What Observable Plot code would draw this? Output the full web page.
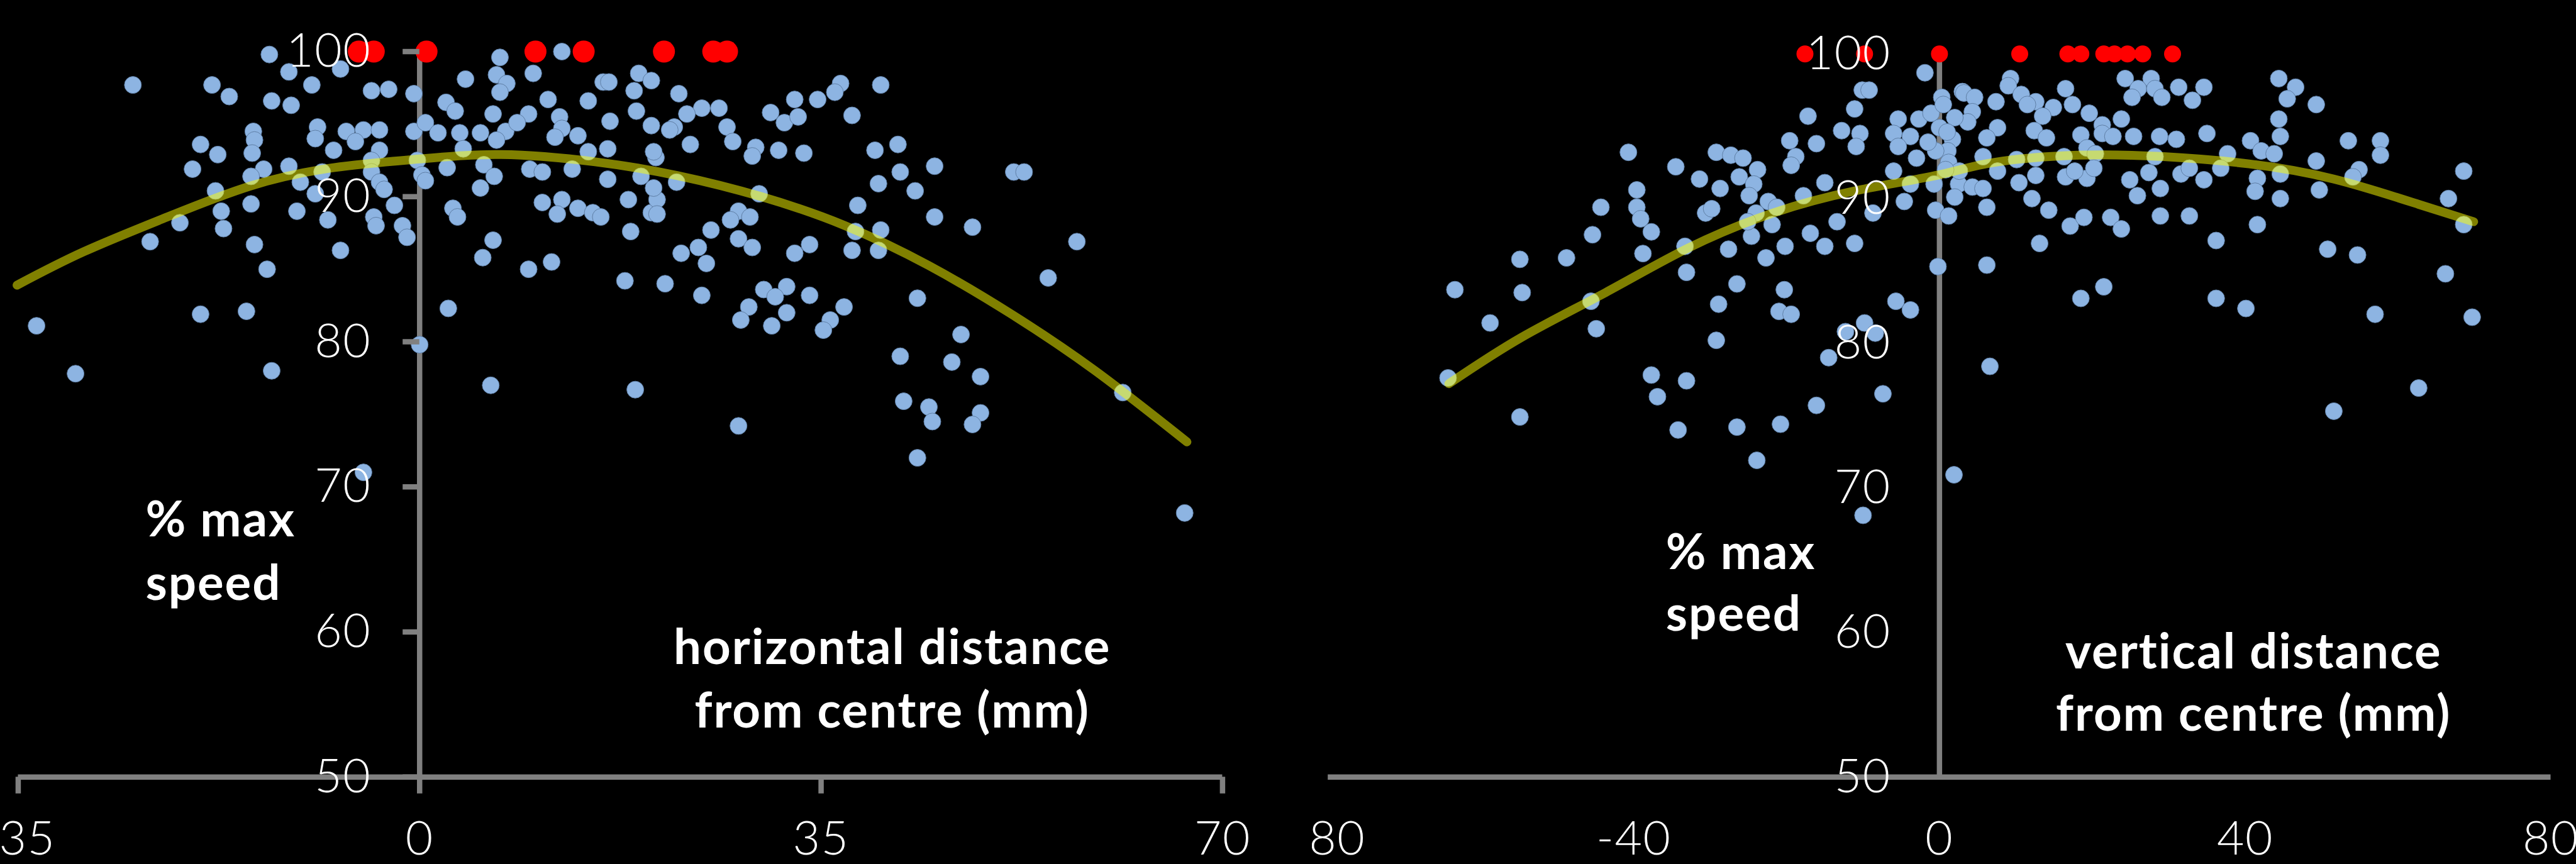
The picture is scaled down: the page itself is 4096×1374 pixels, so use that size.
<!DOCTYPE html>
<html><head><meta charset="utf-8">
<script src="https://cdn.jsdelivr.net/npm/d3@7"></script>
<script src="https://cdn.jsdelivr.net/npm/@observablehq/plot@0.6"></script>
<style>
html,body{margin:0;padding:0;background:#000;}
#wrap{position:relative;width:4096px;height:1374px;overflow:hidden;background:#000;}
#left,#right{position:absolute;top:0;height:1374px;overflow:hidden;}
#left{left:0;width:2086px;}
#right{left:2086px;width:2010px;}
svg{display:block;max-width:none !important;}
g[aria-label="text"] text{letter-spacing:2px;}
g[aria-label="x-axis tick label"] text, g[aria-label="y-axis tick label"] text{letter-spacing:1.5px;}
</style></head><body>
<div id="wrap"><div id="left"></div><div id="right"></div></div>
<script>
// ---------- data ----------
const yTicks = [50, 60, 70, 80, 90, 100];
const hTicks = [-35, 0, 35, 70];
const vTicks = [-80, -40, 0, 40, 80];

// horizontal distance panel: [mm, % max speed]
const hBlue = [
[-13.1,99.8],[-11.4,98.6],[-6.9,98.8],[-25.0,97.7],[-18.1,97.7],[-16.6,96.9],[-9.4,97.7],[-12.9,96.6],[-11.2,96.3],[-4.2,97.3],
[-2.7,97.4],[-0.5,97.1],[7.0,99.6],[4.0,98.1],[6.7,98.4],[7.6,97.8],[7.0,97.2],[9.9,98.5],[12.4,100.0],[11.2,96.7],
[14.7,96.6],[16.0,97.9],[16.5,97.9],[19.1,98.5],[18.7,97.3],[18.9,95.9],[20.2,98.0],[2.3,96.5],[3.1,95.9],[6.4,95.7],
[9.5,95.7],[-8.9,94.8],[-9.1,94.0],[-14.5,94.5],[-14.4,93.9],[-14.6,93.0],[-19.1,93.6],[-17.6,92.9],[-19.8,91.9],[-6.4,94.5],
[-4.9,94.6],[-3.5,94.6],[-5.6,93.8],[-7.5,93.2],[-3.5,93.2],[-4.2,92.5],[-0.5,94.5],[0.5,95.1],[1.6,94.4],[3.5,94.4],
[5.3,94.4],[7.5,94.5],[8.5,95.1],[6.7,93.9],[12.2,95.5],[12.4,94.7],[13.8,94.2],[11.8,94.1],[16.6,95.2],[16.4,93.3],
[20.2,94.9],[14.7,93.1],[3.8,93.3],[-0.2,92.5],[2.4,92.0],[5.6,92.2],[9.6,91.9],[10.7,91.7],[13.3,91.9],[0.2,91.5],
[0.5,91.1],[6.5,91.4],[5.3,90.6],[16.4,91.2],[-13.6,91.9],[-11.4,92.1],[-14.7,91.4],[-10.4,91.0],[-8.5,91.7],[-4.2,91.7],
[-3.5,91.0],[-3.1,90.5],[-17.8,90.4],[-14.7,89.5],[-9.1,90.2],[-17.3,89.0],[-20.9,88.2],[-17.1,87.8],[-10.7,89.0],[-8.0,88.4],
[-4.0,88.6],[-3.8,88.0],[-2.2,89.4],[-1.5,88.0],[-1.1,87.2],[2.9,89.2],[3.3,88.6],[10.7,89.6],[12.4,89.8],[12.0,88.8],
[13.8,89.2],[15.1,88.9],[15.8,88.6],[18.2,89.8],[20.2,88.9],[18.4,87.6],[6.4,87.0],[5.5,85.8],[-23.5,86.9],[-14.4,86.7],
[-6.9,86.3],[-13.3,85.0],[9.5,85.0],[11.5,85.5],[17.9,84.2],[-33.4,81.1],[-19.1,81.9],[-15.1,82.1],[2.5,82.3],[0.0,79.8],
[-30.0,77.8],[-12.9,78.0],[6.2,77.0],[18.8,76.7],
[22.6,97.1],[24.6,96.1],[26.1,96.1],[23.3,95.7],[22.2,94.8],[21.8,94.6],[23.6,93.6],[26.8,94.8],[27.3,93.8],[29.3,93.4],
[29.0,92.8],[31.3,93.2],[33.5,93.0],[32.7,96.7],[34.7,96.7],[30.6,95.8],[31.8,95.1],[33.0,95.5],[36.7,97.8],[36.2,97.2],
[40.2,97.7],[37.7,95.6],[39.7,93.2],[41.7,93.6],[44.9,92.1],[41.9,91.7],[40.0,90.9],[43.2,90.4],[51.8,91.7],[52.7,91.7],
[38.2,89.4],[44.9,88.6],[48.2,87.9],[57.3,86.9],[54.8,84.4],[22.4,91.0],[20.6,92.7],[20.4,93.1],[20.7,89.8],[20.7,88.8],
[19.3,91.4],[20.4,90.6],[27.8,89.0],[28.8,88.6],[27.1,88.4],[25.4,87.7],[27.8,87.1],[29.0,86.5],[24.3,86.5],[22.8,86.1],
[25.0,85.4],[34.0,86.7],[32.7,86.1],[38.0,87.6],[37.7,86.3],[40.2,87.7],[40.0,86.3],[29.6,90.2],[21.4,84.0],[24.6,83.2],
[30.0,83.6],[32.0,83.8],[31.0,83.1],[34.0,83.2],[28.7,82.4],[32.0,82.0],[28.0,81.5],[30.7,81.1],[37.0,82.4],[35.8,81.5],
[35.2,80.8],[43.4,83.0],[47.2,80.5],[41.9,79.0],[46.4,78.6],[48.9,77.6],[42.2,75.9],[44.4,75.5],[44.7,74.5],[48.9,75.1],
[48.2,74.3],[27.8,74.2],[61.3,76.5],[43.4,72.0],[66.7,68.2],[-4.9,71.0]
];
const hMax = [-5.3, -4.0, 0.6, 10.1, 14.3, 21.3, 25.6, 26.8]; // points at 100 %
const hTrendX = [-35.1, -29.3, -22.0, -14.7, -7.5, 0, 7.1, 15.3, 22.5, 29.8, 37.1, 44.4, 51.6, 58.9, 66.9];
const hTrendY = [83.9, 86.2, 88.6, 90.75, 92.0, 92.6, 92.9, 92.4, 91.45, 90.0, 88.0, 85.25, 81.9, 78.0, 73.1];

// vertical distance panel
const vBlue = [
[-1.9,98.7],[-10.1,97.5],[-9.2,97.5],[-11.1,96.2],[-17.2,95.7],[3.0,97.4],[0.3,97.0],[-5.4,95.5],[-2.7,95.5],[-6.0,94.5],
[-3.8,94.3],[-1.1,95.9],[0.0,94.9],[1.7,94.1],[-12.8,94.7],[-10.4,94.5],[-10.9,93.6],[-16.1,93.8],[-19.6,94.0],[-18.8,92.9],
[-19.4,92.3],[-3.0,92.8],[-5.4,93.6],[1.1,93.3],[-0.5,93.3],[-40.7,93.2],[-34.5,92.2],[-29.2,93.2],[-27.3,93.0],[-25.7,92.8],
[-23.8,92.0],[-26.2,91.5],[-31.4,91.35],[-28.7,90.7],[-24.3,91.0],[-24.9,90.2],[-22.4,89.8],[-21.3,89.4],[-24.0,89.0],[-21.9,88.2],
[-24.6,87.4],[-39.6,90.6],[-39.6,89.4],[-39.1,88.6],[-44.3,89.4],[-37.7,87.7],[-45.4,87.5],[-38.8,86.2],[-33.3,86.7],[-30.6,89.0],
[-29.8,89.3],[-25.1,88.4],[-17.8,90.2],[-15.0,91.1],[-13.4,88.4],[-16.9,87.6],[-15.0,86.7],[-20.2,86.7],[-22.7,85.9],[-27.6,86.5],
[-11.1,86.9],[-8.7,89.0],[-4.6,89.8],[-0.5,89.2],[1.2,88.8],[-0.2,85.3],[2.5,91.0],[2.0,90.1],[-3.8,91.0],[-6.0,91.9],
[-54.9,85.8],[-48.8,85.9],[-63.4,83.7],[-54.6,83.5],[-58.8,81.4],[-45.6,82.9],[-44.9,81.0],[-33.1,84.9],[-26.5,84.1],[-20.3,83.7],
[-28.9,82.7],[-21.0,82.2],[-19.4,82.0],[-29.2,80.2],[-5.7,82.9],[-3.8,82.3],[-9.8,81.4],[-12.3,80.8],[-8.4,80.7],[-14.5,79.0],
[-64.3,77.6],[-37.7,77.8],[-33.1,77.4],[-36.9,76.3],[-16.1,75.7],[-7.4,76.5],[-54.9,74.9],[-34.2,74.0],[-26.5,74.2],[-20.8,74.4],
[-23.9,71.9],[-10.0,68.1],[1.9,70.9],
[9.3,98.3],[9.0,97.8],[3.2,97.3],[4.6,97.0],[7.4,96.7],[4.3,96.0],[3.7,95.3],[10.7,97.2],[12.6,96.7],[11.5,96.5],
[14.9,96.3],[13.5,95.7],[16.5,97.6],[17.4,96.5],[24.3,98.3],[27.7,98.3],[26.0,97.6],[28.2,97.6],[31.3,97.7],[34.6,97.7],
[25.2,97.0],[29.1,97.0],[33.1,96.8],[19.6,95.9],[21.3,95.1],[23.8,95.5],[7.6,94.9],[6.2,94.2],[12.4,94.7],[14.0,94.2],
[18.5,94.4],[21.3,94.5],[22.7,94.3],[25.4,94.3],[28.8,94.3],[31.0,94.1],[35.0,94.5],[5.7,92.9],[10.1,92.7],[12.6,92.8],
[16.3,92.9],[19.3,93.5],[20.4,93.1],[28.2,92.9],[37.7,93.1],[40.7,94.0],[42.1,93.3],[43.8,93.1],[44.4,95.5],[44.6,94.3],
[44.4,98.3],[46.6,97.7],[45.5,96.9],[49.3,96.5],[53.5,94.0],[57.7,94.0],[57.7,93.0],[49.3,92.6],[49.7,90.6],[54.9,92.0],
[54.1,91.5],[68.6,91.9],[66.6,90.0],[68.6,88.2],[41.6,91.4],[41.3,90.5],[44.6,91.7],[44.6,90.0],[7.6,91.9],[10.4,91.1],
[12.6,91.6],[16.5,91.5],[19.3,91.4],[20.2,92.1],[17.7,91.9],[27.4,91.8],[24.9,91.3],[31.6,91.7],[32.7,92.1],[34.6,91.3],
[36.8,92.1],[4.3,90.8],[5.7,90.7],[6.2,89.4],[12.1,90.0],[14.3,89.2],[25.9,90.2],[28.9,90.7],[17.1,88.1],[18.9,88.7],
[22.4,88.7],[23.8,87.9],[28.9,88.8],[32.7,88.8],[41.6,88.2],[36.2,87.1],[13.1,86.9],[50.8,86.5],[54.7,86.1],[6.2,85.4],
[66.2,84.8],[21.5,83.9],[18.5,83.1],[36.2,83.1],[40.1,82.4],[57.0,82.0],[69.7,81.8],[6.6,78.4],[62.7,76.9],[51.6,75.3],
[1.2,92.5],[2.6,91.9],[-0.7,91.0],[0.5,96.5],[2.0,95.6],[1.0,94.6],[-1.5,93.9],[0.8,92.0]
];
const vMax = [-17.6, -9.8, 0, 10.5, 16.8, 18.5, 21.5, 22.9, 24.6, 26.6, 30.5]; // points at 100 %
const vTrendX = [-64.2, -54.7, -43.7, -32.8, -21.8, -10.9, 0, 7.1, 18.2, 29.3, 40.5, 51.6, 62.7, 69.9];
const vTrendY = [77.2, 80.4, 83.5, 86.6, 89.0, 90.55, 91.65, 92.5, 93.0, 92.9, 92.4, 91.35, 89.6, 88.4];

// ---------- styling ----------
const S = 0.948;
const AXIS = "#808080";
const BLUE = "#8db4e2";
const FONT = "Lato, 'Open Sans', sans-serif";
const tickFont = 75;
const labelFont = 78;

function panel({width, marginLeft, marginRight, marginTop, xDomain, xTicks, blue, maxX, maxR, trendX, trendY, showTicks, yLabelAt, xLabelAt}) {
  const pts = blue.map(([x, y]) => ({x, y}));
  const maxPts = maxX.map(x => ({x, y: 100}));
  const trend = trendX.map((x, i) => ({x, y: trendY[i]}));
  const tickLen = showTicks ? 28 * S : 0;
  return Plot.plot({
    width, height: 1374,
    marginLeft, marginRight, marginTop, marginBottom: 1374 - 1303 * S,
    x: {domain: xDomain, label: null},
    y: {domain: [50, 100], label: null},
    style: {background: "#000", color: "white", fontFamily: FONT, overflow: "hidden"},
    marks: [
      Plot.ruleY([50], {x1: xDomain[0], x2: xDomain[1], stroke: AXIS, strokeWidth: 8.5}),
      Plot.ruleX([0], {y1: 50, y2: 100, stroke: AXIS, strokeWidth: 8.5}),
      Plot.dot(pts, {x: "x", y: "y", r: 13.5, fill: BLUE, stroke: "#5f7fa6", strokeWidth: 1}),
      Plot.line(trend, {x: "x", y: "y", stroke: "#ffff00", strokeOpacity: 0.5, strokeWidth: 14, curve: "natural"}),
      Plot.dot(maxPts, {x: "x", y: "y", r: maxR, fill: "#ff0000"}),
      Plot.axisX({ticks: xTicks, tickFormat: d => String(d), tickSize: tickLen, tickPadding: 70 - tickLen,
        stroke: AXIS, strokeWidth: 8.5, fill: "white", fontSize: tickFont, fontWeight: 300, label: null}),
      Plot.axisY({x: 0, anchor: "left", ticks: yTicks, tickFormat: d => String(d), tickSize: tickLen, tickPadding: 77 - tickLen,
        stroke: AXIS, strokeWidth: 8.5, fill: "white", fontSize: tickFont, fontWeight: 300, label: null}),
      Plot.text(yLabelAt.lines, {x: () => yLabelAt.x, y: (d, i) => yLabelAt.y[i], text: d => d,
        textAnchor: "start", lineAnchor: "bottom", fill: "white", fontSize: labelFont, fontWeight: "bold"}),
      Plot.text(xLabelAt.lines, {x: () => xLabelAt.x, y: (d, i) => xLabelAt.y[i], text: d => d,
        textAnchor: "middle", lineAnchor: "bottom", fill: "white", fontSize: labelFont, fontWeight: "bold"})
    ]
  });
}

const leftSvg = panel({
  width: 2086, marginLeft: 30 * S, marginRight: 2086 - 2050 * S, marginTop: 86 * S,
  xDomain: [-35, 70], xTicks: hTicks, blue: hBlue, maxX: hMax, maxR: 17.5,
  trendX: hTrendX, trendY: hTrendY, showTicks: true,
  yLabelAt: {lines: ["% max", "speed"], x: -23.9, y: [66.6, 62.2]},
  xLabelAt: {lines: ["horizontal distance", "from centre (mm)"], x: 41.2, y: [57.8, 53.4]}
});
const rightSvg = panel({
  width: 2010, marginLeft: 2227 * S - 2086, marginRight: 2010 - (4278 * S - 2086), marginTop: 90 * S,
  xDomain: [-80, 80], xTicks: vTicks, blue: vBlue, maxX: vMax, maxR: 13.5,
  trendX: vTrendX, trendY: vTrendY, showTicks: false,
  yLabelAt: {lines: ["% max", "speed"], x: -35.8, y: [64.4, 60.1]},
  xLabelAt: {lines: ["vertical distance", "from centre (mm)"], x: 41.1, y: [57.5, 53.2]}
});
document.getElementById("left").appendChild(leftSvg);
document.getElementById("right").appendChild(rightSvg);
</script>
</body></html>
